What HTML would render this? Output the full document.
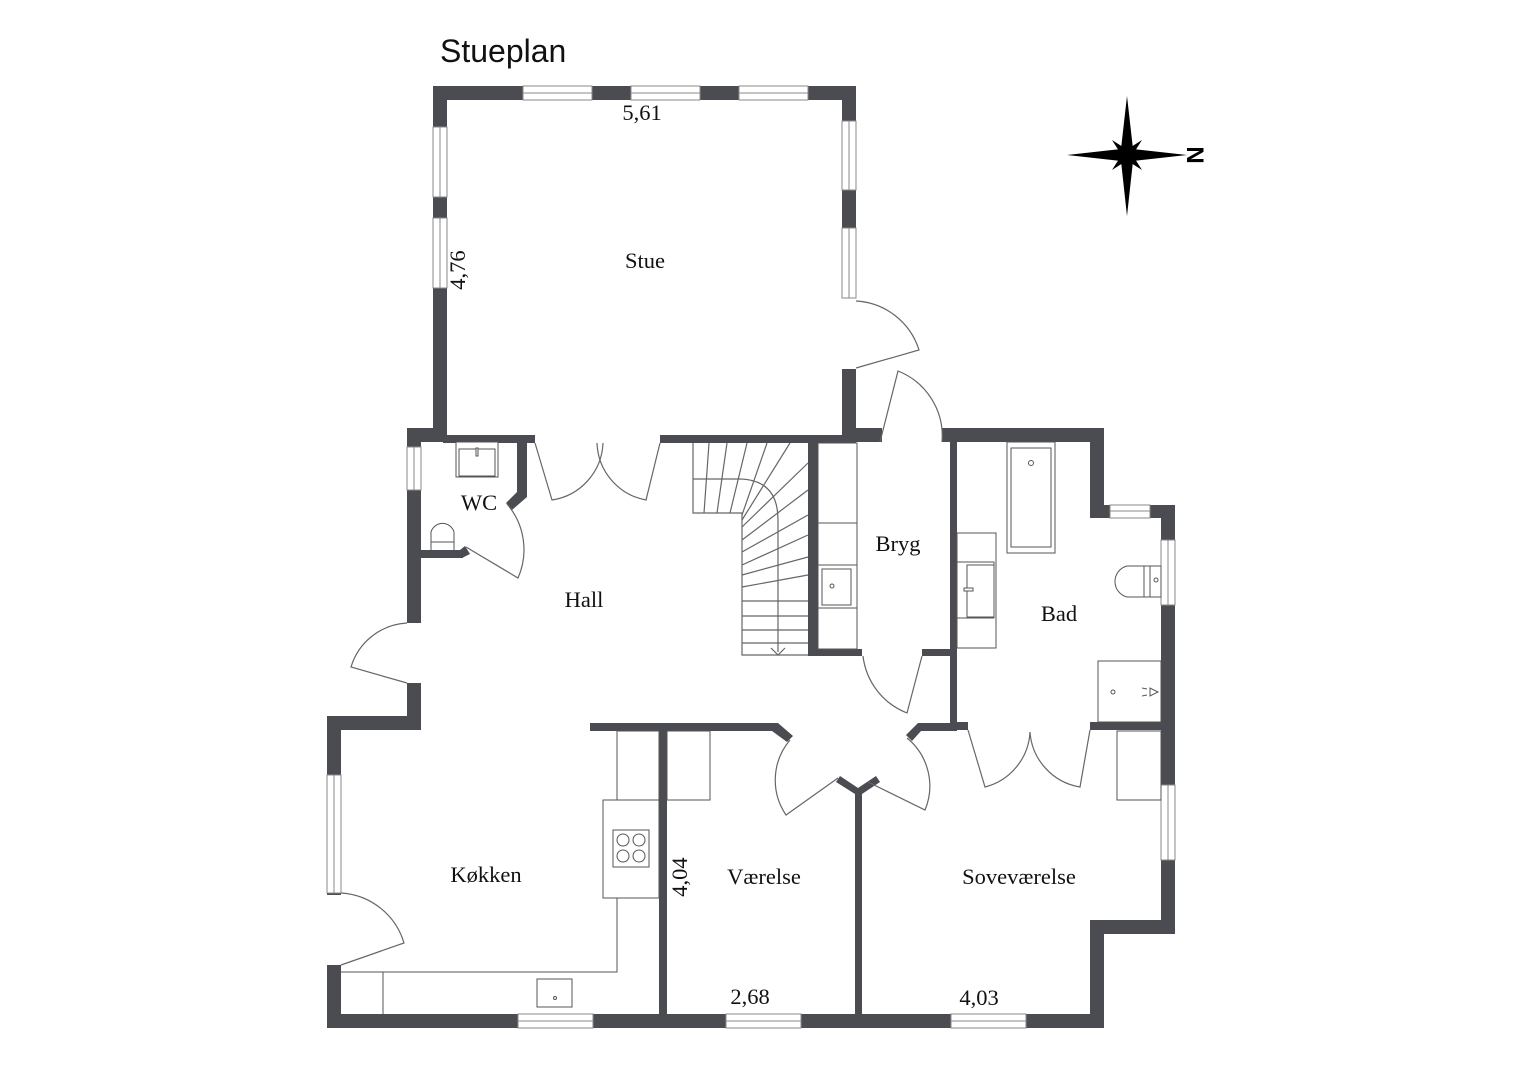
<!DOCTYPE html>
<html><head><meta charset="utf-8"><style>
html,body{margin:0;padding:0;background:#fff;}
svg{display:block;}
.w{fill:#4a4c51;}
.win{fill:#fff;stroke:#8a8a8a;stroke-width:1;}
.l{fill:none;stroke:#666;stroke-width:1.2;}
.f{fill:#fff;stroke:#555;stroke-width:1;}
.t{font-family:"Liberation Serif",serif;font-size:22.5px;fill:#111;}
</style></head><body>
<svg width="1528" height="1080" viewBox="0 0 1528 1080" xmlns="http://www.w3.org/2000/svg">
<text x="440" y="62" font-family="Liberation Sans, sans-serif" font-size="32" fill="#111">Stueplan</text>

<!-- compass -->
<g fill="#000">
<polygon points="1127,96 1133,149 1127,155 1121,149"/>
<polygon points="1127,216 1133,161 1127,155 1121,161"/>
<polygon points="1067,155 1121,149 1127,155 1121,161"/>
<polygon points="1187,155 1133,149 1127,155 1133,161"/>
<polygon points="1127,140 1131,147 1142,140 1135,151 1142,155 1135,159 1142,170 1131,163 1127,170 1123,163 1112,170 1119,159 1112,155 1119,151 1112,140 1123,147"/>
</g>
<text x="0" y="0" transform="translate(1187,155) rotate(90)" text-anchor="middle" font-family="Liberation Sans, sans-serif" font-weight="bold" font-size="24" fill="#000">N</text>

<!-- WALLS -->
<g class="w">
<rect x="433" y="86" width="423" height="14"/>
<rect x="433" y="86" width="14" height="356"/>
<rect x="842" y="86" width="14" height="212"/>
<rect x="842" y="369" width="14" height="73"/>
<rect x="842" y="428" width="40" height="14"/>
<rect x="407" y="428" width="40" height="14"/>
<rect x="443" y="435" width="92" height="8"/>
<rect x="660" y="435" width="196" height="8"/>
<rect x="407" y="428" width="14" height="195"/>
<rect x="517" y="440" width="10" height="55"/>
<polygon points="517,492 527,492 527,497 512,510 506,503"/>
<rect x="421" y="550" width="42" height="8"/>
<polygon points="460,550 465,546 470,554 462,558 460,558"/>
<rect x="407" y="683" width="14" height="47"/>
<rect x="327" y="716" width="94" height="14"/>
<rect x="327" y="716" width="14" height="59"/>
<rect x="327" y="893" width="14" height="2"/>
<rect x="327" y="965" width="14" height="63"/>
<rect x="327" y="1014" width="777" height="14"/>
<rect x="590" y="723" width="185" height="8"/>
<polygon points="772,723 778,723 793,736 787,742 772,731"/>
<rect x="659" y="723" width="8" height="291"/>
<polygon points="836,782 840,776 858,788 876,776 880,782 862,794 862,1014 855,1014 855,794"/>
<polygon points="918,723 957,723 957,731 921,731 912,741 906,735"/>
<rect x="957" y="722" width="11" height="8"/>
<rect x="1090" y="722" width="71" height="8"/>
<rect x="1161" y="505" width="14" height="429"/>
<rect x="1090" y="920" width="85" height="14"/>
<rect x="1090" y="920" width="14" height="108"/>
<rect x="942" y="428" width="162" height="14"/>
<rect x="1090" y="428" width="14" height="90"/>
<rect x="1090" y="505" width="85" height="13"/>
<rect x="950" y="442" width="7" height="288"/>
<rect x="808" y="442" width="10" height="214"/>
<rect x="808" y="649" width="54" height="7"/>
<rect x="922" y="649" width="30" height="7"/>
</g>

<!-- WINDOWS -->
<g class="win">
<rect x="523" y="86" width="69" height="14"/><line x1="523" y1="93" x2="592" y2="93"/>
<rect x="631" y="86" width="69" height="14"/><line x1="631" y1="93" x2="700" y2="93"/>
<rect x="739" y="86" width="69" height="14"/><line x1="739" y1="93" x2="808" y2="93"/>
<rect x="433" y="127" width="14" height="70"/><line x1="440" y1="127" x2="440" y2="197"/>
<rect x="433" y="218" width="14" height="70"/><line x1="440" y1="218" x2="440" y2="288"/>
<rect x="842" y="121" width="14" height="69"/><line x1="849" y1="121" x2="849" y2="190"/>
<rect x="842" y="228" width="14" height="70"/><line x1="849" y1="228" x2="849" y2="298"/>
<rect x="407" y="447" width="14" height="43"/><line x1="414" y1="447" x2="414" y2="490"/>
<rect x="327" y="775" width="14" height="118"/><line x1="334" y1="775" x2="334" y2="893"/>
<rect x="518" y="1014" width="75" height="14"/><line x1="518" y1="1021" x2="593" y2="1021"/>
<rect x="726" y="1014" width="75" height="14"/><line x1="726" y1="1021" x2="801" y2="1021"/>
<rect x="951" y="1014" width="75" height="14"/><line x1="951" y1="1021" x2="1026" y2="1021"/>
<rect x="1110" y="505" width="40" height="13"/><line x1="1110" y1="511" x2="1150" y2="511"/>
<rect x="1161" y="540" width="14" height="65"/><line x1="1168" y1="540" x2="1168" y2="605"/>
<rect x="1161" y="785" width="14" height="75"/><line x1="1168" y1="785" x2="1168" y2="860"/>
</g>

<!-- DOORS -->
<g class="l">
<path d="M856,301 A70,70 0 0 1 919,350 L856,368"/>
<path d="M880,442 L898,371 A70,70 0 0 1 942,442"/>
<path d="M535,443 L552,500 A60,60 0 0 0 603,443"/>
<path d="M660,443 L646,500 A60,60 0 0 1 597,443"/>
<path d="M507,504 A70,70 0 0 1 518,578 L466,547"/>
<path d="M407,623 A62,62 0 0 0 351,667 L407,683"/>
<path d="M341,893 A70,70 0 0 1 404,943 L341,965"/>
<path d="M863,656 A70,70 0 0 0 907,713 L922,656"/>
<path d="M790,740 A62,62 0 0 0 786,815 L838,778"/>
<path d="M907,738 A62,62 0 0 1 925,810 L868,782"/>
<path d="M968,730 L985,787 A60,60 0 0 0 1030,732"/>
<path d="M1090,730 L1080,787 A60,60 0 0 1 1030,732"/>
</g>

<!-- stairs -->
<g class="l" stroke="#444">
<path d="M693,443 L693,513 L742,513 L742,655 L808,655"/>
<line x1="693" y1="479" x2="740" y2="479"/>
<path d="M740,479 Q778,480 778,520 L778,652"/>
<line x1="709" y1="443" x2="704" y2="513"/>
<line x1="727" y1="443" x2="717" y2="513"/>
<line x1="747" y1="443" x2="730" y2="513"/>
<line x1="767" y1="443" x2="742" y2="515"/>
<line x1="790" y1="443" x2="742" y2="520"/>
<line x1="808" y1="463" x2="742" y2="527"/>
<line x1="808" y1="490" x2="742" y2="540"/>
<line x1="808" y1="515" x2="742" y2="552"/>
<line x1="808" y1="535" x2="742" y2="565"/>
<line x1="808" y1="557" x2="742" y2="575"/>
<line x1="808" y1="575" x2="742" y2="587"/>
<line x1="742" y1="601" x2="808" y2="601"/>
<line x1="742" y1="616" x2="808" y2="616"/>
<line x1="742" y1="630" x2="808" y2="630"/>
<line x1="742" y1="643" x2="808" y2="643"/>
<path d="M771,648 L778,655 L785,648"/>
</g>

<!-- fixtures -->
<g class="f">
<rect x="818" y="443" width="39" height="206"/>
<line x1="818" y1="523" x2="857" y2="523"/>
<line x1="818" y1="565" x2="857" y2="565"/>
<line x1="818" y1="608" x2="857" y2="608"/>
<rect x="822" y="569" width="29" height="36"/>
<circle cx="832" cy="586" r="2"/>
<rect x="456" y="442" width="42" height="35"/>
<rect x="459" y="449" width="36" height="27"/>
<rect x="476" y="448" width="2" height="8"/>
<path d="M431,550 L431,532 A12,12 0 0 1 454,532 L454,550"/>
<line x1="431" y1="542" x2="454" y2="542"/>
<rect x="617" y="731" width="42" height="69"/>
<rect x="603" y="800" width="56" height="98"/>
<rect x="613" y="830" width="36" height="37"/>
<circle cx="623" cy="840" r="6"/><circle cx="639" cy="840" r="6"/>
<circle cx="623" cy="856" r="6"/><circle cx="639" cy="856" r="6"/>
<path d="M341,972 L617,972 L617,898" fill="none"/>
<line x1="383" y1="972" x2="383" y2="1014"/>
<rect x="537" y="979" width="35" height="28"/>
<circle cx="555" cy="998" r="1.5"/>
<rect x="667" y="731" width="43" height="69"/>
<rect x="1117" y="731" width="44" height="69"/>
<rect x="1007" y="442" width="48" height="111"/>
<rect x="1011" y="448" width="40" height="99"/>
<circle cx="1031" cy="463" r="2.5"/>
<rect x="957" y="533" width="39" height="115"/>
<rect x="957" y="562" width="37" height="56"/>
<rect x="967" y="565" width="27" height="52"/>
<rect x="964" y="588" width="9" height="3"/>
<path d="M1144,566 L1127,566 A16,16 0 0 0 1127,597 L1161,597 L1161,566 L1144,566 L1144,597"/>
<line x1="1150" y1="566" x2="1150" y2="597"/>
<circle cx="1156" cy="580" r="2"/>
<rect x="1098" y="661" width="63" height="61"/>
<circle cx="1113" cy="692" r="2"/>
<path d="M1158,692 L1150,688 L1150,696 Z M1147,689 L1142,688 M1147,695 L1142,696" fill="none"/>
</g>

<!-- labels -->
<g class="t" text-anchor="middle">
<text x="645" y="268">Stue</text>
<text x="642" y="120">5,61</text>
<text x="0" y="0" transform="translate(465,270) rotate(-90)">4,76</text>
<text x="479" y="510">WC</text>
<text x="584" y="607">Hall</text>
<text x="898" y="551">Bryg</text>
<text x="1059" y="621">Bad</text>
<text x="486" y="882">Køkken</text>
<text x="764" y="884">Værelse</text>
<text x="1019" y="884">Soveværelse</text>
<text x="0" y="0" transform="translate(687,877) rotate(-90)">4,04</text>
<text x="750" y="1004">2,68</text>
<text x="979" y="1005">4,03</text>
</g>
</svg>
</body></html>
